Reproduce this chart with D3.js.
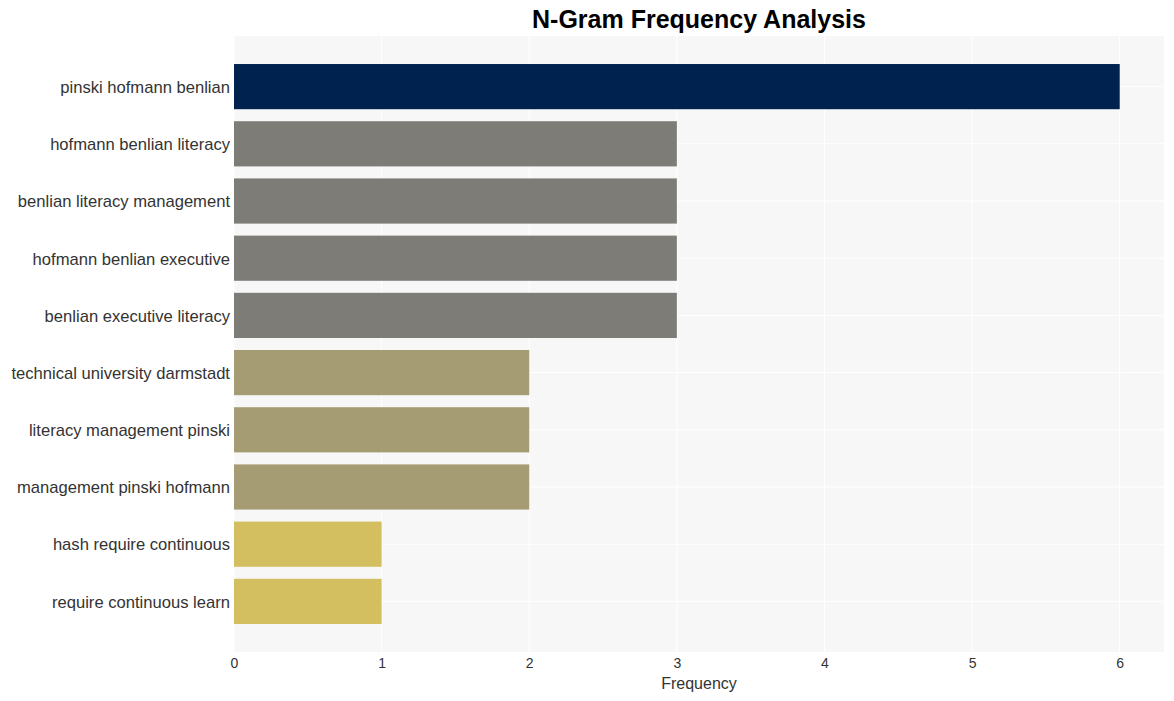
<!DOCTYPE html>
<html>
<head>
<meta charset="utf-8">
<script src="https://d3js.org/d3.v7.min.js"></script>
<style>
  body { margin: 0; background: #fff; }
  text { font-family: "Liberation Sans", Arial, sans-serif; }
</style>
</head>
<body>
<div id="chart"></div>
<script>
// n-gram 빈도 데이터
var ngrams = ["pinski hofmann benlian", "hofmann benlian literacy", "benlian literacy management",
              "hofmann benlian executive", "benlian executive literacy", "technical university darmstadt",
              "literacy management pinski", "management pinski hofmann", "hash require continuous",
              "require continuous learn"];
var counts = [6, 3, 3, 3, 3, 2, 2, 2, 1, 1];
var xTicks = [0, 1, 2, 3, 4, 5, 6];
var colorByCount = {6: "#00224e", 3: "#7d7c77", 2: "#a59c73", 1: "#d3bf5f"};

var width = 1174, height = 701;
var margin = {top: 36, right: 10, bottom: 49, left: 234};

var svg = d3.select("#chart").append("svg")
    .attr("width", width)
    .attr("height", height);

var x = d3.scaleLinear()
    .domain([0, 6.3])
    .range([margin.left, width - margin.right]);

var y = d3.scaleBand()
    .domain(ngrams)
    .range([margin.top, height - margin.bottom])
    .paddingInner(0.21)
    .paddingOuter(0.49);

// 배경
svg.append("rect")
    .attr("x", margin.left)
    .attr("y", margin.top)
    .attr("width", x.range()[1] - margin.left)
    .attr("height", height - margin.bottom - margin.top)
    .attr("fill", "#f7f7f7");

// 격자선
svg.append("g").selectAll("line.v")
    .data(xTicks)
    .enter().append("line")
    .attr("x1", function(d){ return x(d); })
    .attr("x2", function(d){ return x(d); })
    .attr("y1", margin.top)
    .attr("y2", height - margin.bottom)
    .attr("stroke", "#fff")
    .attr("stroke-width", 1);

svg.append("g").selectAll("line.h")
    .data(ngrams)
    .enter().append("line")
    .attr("x1", margin.left)
    .attr("x2", x.range()[1])
    .attr("y1", function(d){ return y(d) + y.bandwidth()/2; })
    .attr("y2", function(d){ return y(d) + y.bandwidth()/2; })
    .attr("stroke", "#fff")
    .attr("stroke-width", 1);

// 막대
svg.append("g").selectAll("rect")
    .data(counts)
    .enter().append("rect")
    .attr("x", x(0))
    .attr("y", function(d, i){ return y(ngrams[i]); })
    .attr("width", function(d){ return x(d) - x(0); })
    .attr("height", y.bandwidth())
    .attr("fill", function(d){ return colorByCount[d]; });

// x축
var xAxis = svg.append("g")
    .attr("transform", "translate(0," + (height - margin.bottom) + ")")
    .call(d3.axisBottom(x).tickValues(xTicks).tickFormat(d3.format("d")).tickSize(0).tickPadding(6));
xAxis.select(".domain").remove();
xAxis.selectAll("text")
    .style("font-size", "14px")
    .attr("fill", "#333")
    .style("font-family", "'Liberation Sans', Arial, sans-serif");

// y축
var yAxis = svg.append("g")
    .attr("transform", "translate(" + margin.left + ",1)")
    .call(d3.axisLeft(y).tickSize(0).tickPadding(4));
yAxis.select(".domain").remove();
yAxis.selectAll("text")
    .style("font-size", "16.6px")
    .attr("fill", "#333")
    .style("font-family", "'Liberation Sans', Arial, sans-serif");

// 축 제목
svg.append("text")
    .attr("x", (margin.left + x.range()[1]) / 2)
    .attr("y", 689)
    .attr("text-anchor", "middle")
    .attr("font-size", "16px")
    .attr("fill", "#333")
    .text("Frequency");

// 차트 제목
svg.append("text")
    .attr("x", (margin.left + x.range()[1]) / 2)
    .attr("y", 28)
    .attr("text-anchor", "middle")
    .attr("font-size", "25px")
    .attr("font-weight", "bold")
    .attr("fill", "#000")
    .text("N-Gram Frequency Analysis");
</script>
</body>
</html>
